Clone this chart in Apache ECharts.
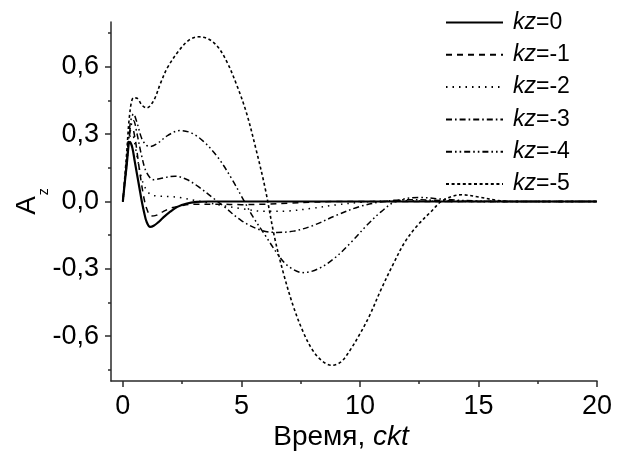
<!DOCTYPE html>
<html><head><meta charset="utf-8">
<script src="https://cdn.jsdelivr.net/npm/echarts@6/dist/echarts.min.js"></script>
<style>html,body{margin:0;padding:0;background:#fff}#c{width:622px;height:460px}</style>
</head><body><div id="c"></div>
<script>
// ---- data ----
const seriesNames = ['kz=0', 'kz=-1', 'kz=-2', 'kz=-3', 'kz=-4', 'kz=-5'];
const xTickLabels = [0, 5, 10, 15, 20];
const xMinorTicks = [2.5, 7.5, 12.5, 17.5];
const yTickLabels = [-0.6, -0.3, 0.0, 0.3, 0.6];
const yMinorTicks = [-0.75, -0.45, -0.15, 0.15, 0.45, 0.75];

const x0 = [0, 0.15, 0.3, 0.4, 0.5, 0.6, 0.7, 0.8, 0.9, 1.0, 1.15, 1.3, 1.5, 1.7, 2.0, 2.3, 2.7, 3.1, 3.6, 4.5, 6, 8, 10, 12, 14, 16, 18, 20];
const y0 = [0, 0.15, 0.266, 0.24, 0.18, 0.12, 0.06, 0.0, -0.05, -0.09, -0.113, -0.108, -0.092, -0.072, -0.045, -0.024, -0.009, -0.002, 0, 0, 0, 0, 0, 0, 0, 0, 0, 0];

const x1 = [0, 0.15, 0.3, 0.4, 0.5, 0.6, 0.7, 0.8, 0.9, 1.0, 1.2, 1.4, 1.7, 2.0, 2.5, 3, 4, 5, 6, 7, 8, 9, 10, 12, 14, 16, 18, 20];
const y1 = [0, 0.16, 0.31, 0.325, 0.29, 0.22, 0.14, 0.07, 0.01, -0.03, -0.065, -0.062, -0.045, -0.03, -0.018, -0.012, -0.012, -0.014, -0.012, -0.007, -0.003, 0, 0, 0, 0, 0, 0, 0];

const x2 = [0, 0.15, 0.3, 0.4, 0.5, 0.6, 0.8, 1.0, 1.2, 1.5, 2.0, 2.5, 3.0, 3.5, 4, 5, 6, 7, 8, 9, 10, 11, 12, 14, 16, 18, 20];
const y2 = [0, 0.15, 0.29, 0.30, 0.26, 0.2, 0.1, 0.05, 0.03, 0.024, 0.022, 0.016, 0.006, -0.004, -0.014, -0.032, -0.044, -0.042, -0.03, -0.015, -0.004, 0.002, 0.003, 0, 0, 0, 0];

const x3 = [0, 0.15, 0.3, 0.45, 0.6, 0.8, 1.0, 1.3, 1.7, 2.2, 2.7, 3.2, 3.8, 4.3, 5.0, 5.8, 6.5, 7.2, 8.0, 9.0, 10.0, 11.0, 12.0, 13.0, 14.0, 16, 18, 20];
const y3 = [0, 0.16, 0.32, 0.36, 0.3, 0.2, 0.13, 0.097, 0.105, 0.113, 0.098, 0.065, 0.016, -0.025, -0.085, -0.127, -0.138, -0.132, -0.108, -0.062, -0.022, 0.0, 0.008, 0.006, 0.002, 0, 0, 0];

const x4 = [0, 0.15, 0.3, 0.45, 0.6, 0.8, 1.0, 1.15, 1.5, 1.9, 2.4, 2.9, 3.4, 4.0, 4.6, 5.1, 5.5, 6.0, 6.6, 7.0, 7.6, 8.2, 8.9, 9.6, 10.3, 10.9, 11.5, 12.5, 13.5, 15, 17, 20];
const y4 = [0, 0.17, 0.34, 0.39, 0.35, 0.28, 0.25, 0.245, 0.262, 0.295, 0.316, 0.305, 0.268, 0.198, 0.1, 0.005, -0.07, -0.15, -0.245, -0.29, -0.317, -0.302, -0.255, -0.185, -0.105, -0.045, 0.0, 0.018, 0.01, 0.002, 0, 0];

const x5 = [0, 0.15, 0.3, 0.45, 0.6, 0.8, 1.0, 1.3, 1.6, 1.9, 2.4, 2.8, 3.2, 3.6, 4.0, 4.4, 4.8, 5.2, 5.6, 6.0, 6.4, 6.8, 7.2, 7.6, 8.0, 8.4, 8.8, 9.2, 9.6, 10.0, 10.4, 10.9, 11.4, 11.9, 12.4, 13.0, 13.5, 14.3, 15.0, 15.8, 16.5, 18, 20];
const y5 = [0, 0.2, 0.4, 0.462, 0.46, 0.43, 0.417, 0.45, 0.53, 0.6, 0.677, 0.72, 0.734, 0.725, 0.69, 0.62, 0.52, 0.4, 0.24, 0.06, -0.16, -0.33, -0.47, -0.58, -0.662, -0.71, -0.73, -0.715, -0.66, -0.59, -0.51, -0.39, -0.28, -0.18, -0.11, -0.045, 0.005, 0.03, 0.02, 0.005, 0, 0, 0];

// ---- chart ----
const FONT = '"Liberation Sans", Arial, sans-serif';
const xs = [x0, x1, x2, x3, x4, x5];
const ys = [y0, y1, y2, y3, y4, y5];
const dashes = ['solid', [6, 5], [1.5, 5], [6, 3, 1.6, 3], [6, 3, 1.6, 3, 1.6, 3], [3, 2.6]];
const widths = [2.2, 1.5, 1.5, 1.5, 1.5, 1.6];
const zip = (a, b) => a.map((v, i) => [v, b[i]]);

const chart = echarts.init(document.getElementById('c'), null, {renderer: 'canvas'});
const axisColor = '#2a2a2a';
const yFmt = v => (Math.abs(v) < 1e-9 ? 0 : v).toFixed(1).replace('.', ',');

chart.setOption({
  animation: false,
  backgroundColor: '#fff',
  grid: {left: 111, right: 25, top: 22, bottom: 79, containLabel: false, outerBoundsMode: 'none'},
  legend: {
    orient: 'vertical', left: 440, top: 6,
    itemWidth: 57, itemHeight: 14, itemGap: 9.3,
    data: seriesNames,
    itemStyle: {opacity: 0},
    formatter: n => '{i|kz}{n|' + n.slice(2) + '}',
    textStyle: {
      color: '#000', padding: [0, 0, 0, 5],
      rich: {
        i: {fontFamily: FONT, fontSize: 23, fontStyle: 'italic', color: '#000', lineHeight: 24},
        n: {fontFamily: FONT, fontSize: 23, color: '#000', lineHeight: 24}
      }
    }
  },
  xAxis: [{
    type: 'value', min: -0.5, max: 20,
    splitLine: {show: false},
    axisLine: {onZero: false, lineStyle: {color: axisColor, width: 1.5}},
    axisTick: {length: 6, customValues: xTickLabels, lineStyle: {color: axisColor, width: 1.5}},
    axisLabel: {customValues: xTickLabels, margin: 12, fontFamily: FONT, fontSize: 27, color: '#000'},
    name: '{n|Время, }{i|ckt}', nameLocation: 'middle', nameGap: 42, nameMoveOverlap: false,
    nameTextStyle: {padding: [0, 26, 0, 0], rich: {
      n: {fontFamily: FONT, fontSize: 28, color: '#000'},
      i: {fontFamily: FONT, fontSize: 28, fontStyle: 'italic', color: '#000'}
    }}
  }, {
    type: 'value', min: -0.5, max: 20, position: 'bottom', offset: 0,
    splitLine: {show: false},
    axisLine: {show: false, onZero: false},
    axisTick: {length: 3, customValues: xMinorTicks, lineStyle: {color: axisColor, width: 1.5}},
    axisLabel: {show: false}
  }],
  yAxis: [{
    type: 'value', min: -0.8, max: 0.8,
    splitLine: {show: false},
    axisLine: {onZero: false, lineStyle: {color: axisColor, width: 1.5}},
    axisTick: {length: 6, customValues: yTickLabels, lineStyle: {color: axisColor, width: 1.5}},
    axisLabel: {customValues: yTickLabels, formatter: yFmt, margin: 12, fontFamily: FONT, fontSize: 27, color: '#000'},
    name: '{a|A}{s|z}', nameLocation: 'middle', nameRotate: 90, nameGap: 70, nameMoveOverlap: false,
    nameTextStyle: {rich: {
      a: {fontFamily: FONT, fontSize: 28, lineHeight: 28, verticalAlign: 'top', color: '#000'},
      s: {fontFamily: FONT, fontSize: 14, lineHeight: 14, verticalAlign: 'top', padding: [24, 0, 0, 1], color: '#000'}
    }}
  }, {
    type: 'value', min: -0.8, max: 0.8, position: 'left', offset: 0,
    splitLine: {show: false},
    axisLine: {show: false, onZero: false},
    axisTick: {length: 3, customValues: yMinorTicks, lineStyle: {color: axisColor, width: 1.5}},
    axisLabel: {show: false}
  }],
  series: seriesNames.map((name, i) => ({
    name, type: 'line', xAxisIndex: 0, yAxisIndex: 0,
    data: zip(xs[i], ys[i]),
    smooth: 0.35, symbol: 'none', showSymbol: false,
    lineStyle: {color: '#000', width: widths[i], type: dashes[i]},
    itemStyle: {color: '#000'},
    z: 10 - i
  }))
});
</script></body></html>
